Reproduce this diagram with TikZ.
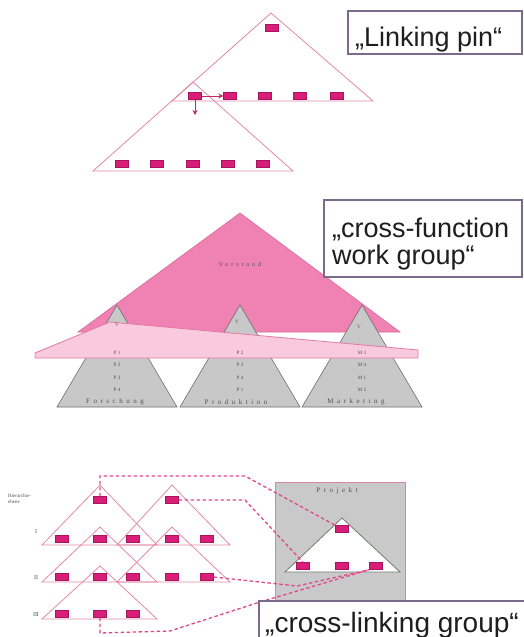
\documentclass[tikz,border=0pt]{standalone}
\usepackage{fontspec}
\setmainfont{Liberation Sans}
\newfontfamily\spc[LetterSpace=50]{Liberation Serif}
\newfontfamily\serf{Liberation Serif}
\usetikzlibrary{arrows.meta}
\definecolor{mag}{HTML}{D81E78}
\definecolor{magD}{HTML}{A8155C}
\definecolor{triP}{HTML}{E38AA6}
\definecolor{boxC}{HTML}{7A6A8C}
\definecolor{txt}{HTML}{1E1E1E}
\definecolor{gtx}{HTML}{505050}
\definecolor{dashP}{HTML}{DE4A86}
\definecolor{arrC}{HTML}{C02868}
\definecolor{vor}{HTML}{EF82B2}
\definecolor{vorD}{HTML}{D86A98}
\definecolor{gry}{HTML}{C8C8C8}
\definecolor{gryD}{HTML}{6E6E6E}
\definecolor{band}{HTML}{F9CADD}
\definecolor{bandD}{HTML}{E07AA2}
\definecolor{prj}{HTML}{C9C9C9}
\definecolor{prjD}{HTML}{D884A4}
\definecolor{ptri}{HTML}{6F7C6F}
\tikzset{
 pin/.style={draw=magD, fill=mag, minimum width=13pt, minimum height=7pt, inner sep=0pt, line width=0.4pt},
 tri/.style={draw=triP, line width=0.8pt},
 lbl/.style={draw=boxC, line width=1.8pt, fill=white, inner sep=0pt},
 big/.style={font=\fontsize{27}{27}\selectfont, text=txt, inner sep=0pt},
 sp/.style={font=\spc\fontsize{6}{6}\selectfont, text=gtx, inner sep=0pt},
 tiny/.style={font=\serf\fontsize{5}{6}\selectfont, text=gtx, inner sep=0pt},
 dsh/.style={draw=dashP, line width=1.3pt, dash pattern=on 3.5pt off 2.5pt},
 arr/.style={draw=arrC, line width=1pt, -{Stealth[length=5pt,width=5pt]}},
}
\begin{document}
\begin{tikzpicture}[x=1pt,y=-1pt]
\useasboundingbox (0,0) rectangle (523,637);
\fill[white] (0,0) rectangle (523,637);

% ---------- Linking pin ----------
\draw[tri] (271,13) -- (373,101) -- (172,101) -- cycle;
\draw[tri] (193,82) -- (293,171) -- (93,171) -- cycle;
\node[pin] (lp0) at (272,28) {};
\node[pin] (lp1) at (195,96) {};
\node[pin] (lp2) at (230,96) {};
\node[pin] (lp3) at (265,96) {};
\node[pin] (lp4) at (300,96) {};
\node[pin] (lp5) at (337,96) {};
\node[pin] (lq1) at (122,164) {};
\node[pin] (lq2) at (157,164) {};
\node[pin] (lq3) at (193,164) {};
\node[pin] (lq4) at (228,164) {};
\node[pin] (lq5) at (263,164) {};
\coordinate (dn) at (195,115);
\draw[arr] (lp1.east) -- (lp2.west);
\draw[arr] (lp1.south) -- (dn);
\node[lbl, anchor=north west, minimum width=174pt, minimum height=43pt] (b1) at (347,10) {};
\node[big, anchor=base west] (t1) at (355,46) {„Linking pin“};

% ---------- cross-function ----------
\filldraw[fill=vor, draw=vorD, line width=0.6pt] (240,213) -- (400,332) -- (78,332) -- cycle;
\foreach \x in {117,240,362}
  \filldraw[fill=gry, draw=gryD, line width=0.6pt] (\x,305) -- (\x+60,407) -- (\x-60,407) -- cycle;
\filldraw[fill=band, draw=bandD, line width=0.8pt] (35,358) -- (35,353) -- (110,322) -- (418,350) -- (418,358) -- cycle;
\node[sp] (vs) at (240,264) {Vorstand};
\node[tiny] (v1) at (117,325) {V};
\node[tiny] (v2) at (237,322) {V};
\node[tiny] (v3) at (359,327) {V};
\node[tiny] (a1) at (117,353) {P 1};
\node[tiny] (a2) at (117,365) {P 2};
\node[tiny] (a3) at (117,378) {P 3};
\node[tiny] (a4) at (117,390) {P 4};
\node[tiny] (c1) at (240,353) {P 2};
\node[tiny] (c2) at (240,365) {P 3};
\node[tiny] (c3) at (240,378) {P 4};
\node[tiny] (c4) at (240,390) {P 1};
\node[tiny] (m1) at (362,353) {M 3};
\node[tiny] (m2) at (362,365) {M 4};
\node[tiny] (m3) at (362,378) {M 1};
\node[tiny] (m4) at (362,390) {M 2};
\node[sp, font=\spc\fontsize{7}{7}\selectfont] (fo) at (115,402) {Forschung};
\node[sp, font=\spc\fontsize{7}{7}\selectfont] (pr) at (236,402) {Produktion};
\node[sp, font=\spc\fontsize{7}{7}\selectfont] (ma) at (356,402) {Marketing};
\node[lbl, anchor=north west, minimum width=198pt, minimum height=77pt] (b2) at (323,199) {};
\node[big, anchor=base west] (t2a) at (332,237) {„cross-function};
\node[big, anchor=base west] (t2b) at (332,264) {work group“};

% ---------- cross-linking ----------
\node[tiny, align=left, anchor=west] (hier) at (8,499) {Hierarchie-\\ebene};
\node[tiny, font=\serf\fontsize{6}{6}\selectfont] (l1) at (36,532) {I};
\node[tiny, font=\serf\fontsize{6}{6}\selectfont] (l2) at (36,578) {II};
\node[tiny, font=\serf\fontsize{6}{6}\selectfont] (l3) at (36,615) {III};
\draw[tri] (100,485) -- (157,545) -- (42,545) -- cycle;
\draw[tri] (172,485) -- (230,545) -- (117,545) -- cycle;
\draw[tri] (100,527) -- (157,582) -- (42,582) -- cycle;
\draw[tri] (172,527) -- (230,582) -- (117,582) -- cycle;
\draw[tri] (100,566) -- (157,619) -- (42,619) -- cycle;
\node[pin] (ta) at (100,500) {};
\node[pin] (tb) at (172,500) {};
\foreach \i/\x in {1/62,2/100,3/133,4/172,5/207} {
  \node[pin] (ra\i) at (\x,539) {};
  \node[pin] (rb\i) at (\x,577) {};
}
\foreach \i/\x in {1/62,2/100,3/133}
  \node[pin] (rc\i) at (\x,614) {};

\filldraw[fill=prj, draw=prjD, line width=0.8pt] (275,482) rectangle (405,612);
\node[sp, font=\spc\fontsize{7}{7}\selectfont] (pj) at (337,491) {Projekt};
\filldraw[fill=white, draw=ptri, line width=0.8pt] (342,518) -- (400,572) -- (285,572) -- cycle;
\node[pin] (pt) at (342,529) {};
\node[pin] (pb1) at (303,566) {};
\node[pin] (pb2) at (342,566) {};
\node[pin] (pb3) at (376,566) {};

\draw[dsh] (ta.north) -- (100,476) -- (245,476) -- (pt.north west);
\draw[dsh] (tb.east) -- (245,500) -- (pb1.north);
\draw[dsh] (rb5.east) -- (297,586) -- (pb3.south west);
\draw[dsh] (rc2.south) -- (100,633) -- (170,631) -- (260,602) -- (pb3.south west);

\node[lbl, anchor=north west, minimum width=280pt, minimum height=50pt] (b3) at (258,600) {};
\node[big, font=\fontsize{28}{28}\selectfont, anchor=base west] (t3) at (265,632) {„cross-linking group“};
\end{tikzpicture}
\end{document}
